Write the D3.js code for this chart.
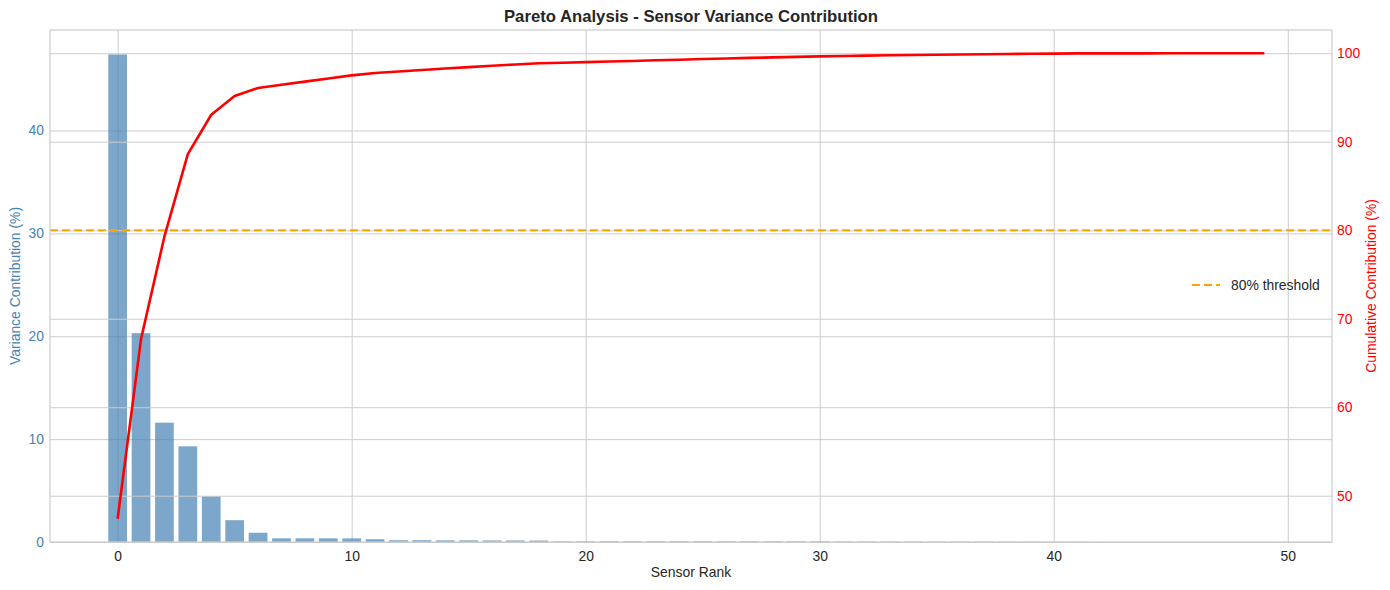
<!DOCTYPE html>
<html lang="en">
<head>
  <meta charset="UTF-8">
  <script src="https://cdn.jsdelivr.net/npm/d3@7"></script>
  <title>Pareto Analysis</title>
  <style>
    body { margin: 0; background: #fff; }
    svg text { font-family: "Liberation Sans", Arial, sans-serif; }
  </style>
</head>
<body>
  <svg width="1390" height="590" id="chart"></svg>
  <script>
    // variance contribution (%) of each sensor, already sorted by rank
    let sensorRank = d3.range(50);
    let variancePct = [
      47.4, 20.3, 11.6, 9.3, 4.45, 2.12, 0.9, 0.36, 0.36, 0.36,
      0.35, 0.27, 0.17, 0.17, 0.16, 0.16, 0.15, 0.15, 0.14, 0.06,
      0.06, 0.07, 0.07, 0.07, 0.07, 0.07, 0.065, 0.065, 0.06, 0.06,
      0.06, 0.04, 0.04, 0.035, 0.035, 0.03, 0.03, 0.03, 0.025, 0.025,
      0.02, 0.02, 0.004, 0.003, 0.002, 0.002, 0.001, 0.001, 0.001, 0.001
    ];
    let threshold = 80;
    let xTicks = [0, 10, 20, 30, 40, 50];
    let leftTicks = [0, 10, 20, 30, 40];
    let rightTicks = [50, 60, 70, 80, 90, 100];

    // running total for the pareto line
    let cumulativePct = Array.from(d3.cumsum(variancePct));

    let svg = d3.select("#chart");
    let plotL = 50, plotR = 1332, plotT = 30, plotB = 542;
    let grid = "#cccccc";

    /* SCALES */
    let scaleX = d3.scaleLinear().domain([-2.89, 51.89]).range([plotL, plotR]);
    let maxVar = d3.max(variancePct);
    let scaleY = d3.scaleLinear().domain([0, maxVar * 1.05]).range([plotB, plotT]);
    let cMin = d3.min(cumulativePct), cMax = d3.max(cumulativePct);
    let pad = (cMax - cMin) * 0.05;
    let scaleY2 = d3.scaleLinear().domain([cMin - pad, cMax + pad]).range([plotB, plotT]);

    /* LEFT AXIS GRID (behind bars) */
    let axisX = d3.axisBottom(scaleX).tickValues(xTicks).tickSize(-(plotB - plotT)).tickFormat("");
    svg.append("g").attr("transform", `translate(0,${plotB})`).call(axisX)
      .call(g => g.select(".domain").remove())
      .selectAll("line").attr("stroke", grid).attr("stroke-width", 1);

    let gridLeft = d3.axisLeft(scaleY).tickValues(leftTicks).tickSize(-(plotR - plotL)).tickFormat("");
    svg.append("g").attr("transform", `translate(${plotL},0)`).call(gridLeft)
      .call(g => g.select(".domain").remove())
      .selectAll("line").attr("stroke", grid).attr("stroke-width", 1);

    /* BARS */
    svg.selectAll(".bar")
      .data(variancePct)
      .enter()
      .append("rect")
      .attr("class", "bar")
      .attr("x", (d, i) => scaleX(sensorRank[i] - 0.4))
      .attr("width", (d, i) => scaleX(sensorRank[i] + 0.4) - scaleX(sensorRank[i] - 0.4))
      .attr("y", d => scaleY(d))
      .attr("height", d => scaleY(0) - scaleY(d))
      .attr("fill", "steelblue")
      .attr("fill-opacity", 0.7);

    /* RIGHT AXIS GRID (twin axis, drawn over the bars) */
    let gridRight = d3.axisRight(scaleY2).tickValues(rightTicks).tickSize(-(plotR - plotL)).tickFormat("");
    svg.append("g").attr("transform", `translate(${plotR},0)`).call(gridRight)
      .call(g => g.select(".domain").remove())
      .selectAll("line").attr("stroke", grid).attr("stroke-width", 1);

    // 80% threshold
    svg.append("line")
      .attr("x1", plotL).attr("x2", plotR)
      .attr("y1", scaleY2(threshold)).attr("y2", scaleY2(threshold))
      .attr("stroke", "orange")
      .attr("stroke-width", 2)
      .attr("stroke-dasharray", "8,4");

    // cumulative line
    let line = d3.line()
      .x((d, i) => scaleX(sensorRank[i]))
      .y(d => scaleY2(d));
    svg.append("path")
      .datum(cumulativePct)
      .attr("d", line)
      .attr("fill", "none")
      .attr("stroke", "red")
      .attr("stroke-width", 2.6)
      .attr("stroke-linejoin", "round");

    // frame
    svg.append("rect")
      .attr("x", plotL).attr("y", plotT)
      .attr("width", plotR - plotL).attr("height", plotB - plotT)
      .attr("fill", "none").attr("stroke", grid).attr("stroke-width", 1.2);

    /* TICK LABELS */
    let xLab = d3.axisBottom(scaleX).tickValues(xTicks).tickSize(0).tickPadding(9);
    svg.append("g").attr("transform", `translate(0,${plotB})`).call(xLab)
      .call(g => g.select(".domain").remove())
      .selectAll("text").attr("fill", "#262626").style("font-size", "13.9px");

    let yLab = d3.axisLeft(scaleY).tickValues(leftTicks).tickSize(0).tickPadding(6);
    svg.append("g").attr("transform", `translate(${plotL},0)`).call(yLab)
      .call(g => g.select(".domain").remove())
      .selectAll("text").attr("fill", "steelblue").style("font-size", "13.9px");

    let y2Lab = d3.axisRight(scaleY2).tickValues(rightTicks).tickSize(0).tickPadding(5);
    svg.append("g").attr("transform", `translate(${plotR},0)`).call(y2Lab)
      .call(g => g.select(".domain").remove())
      .selectAll("text").attr("fill", "red").style("font-size", "13.9px");

    /* TITLES */
    svg.append("text")
      .text("Pareto Analysis - Sensor Variance Contribution")
      .attr("x", (plotL + plotR) / 2).attr("y", 22)
      .attr("text-anchor", "middle")
      .attr("fill", "#262626")
      .style("font-size", "16.7px")
      .style("font-weight", "bold");

    svg.append("text")
      .text("Sensor Rank")
      .attr("x", (plotL + plotR) / 2).attr("y", 577)
      .attr("text-anchor", "middle")
      .attr("fill", "#262626")
      .style("font-size", "13.9px");

    svg.append("text")
      .text("Variance Contribution (%)")
      .attr("transform", `translate(20,${(plotT + plotB) / 2}) rotate(-90)`)
      .attr("text-anchor", "middle")
      .attr("fill", "steelblue")
      .style("font-size", "13.9px");

    svg.append("text")
      .text("Cumulative Contribution (%)")
      .attr("transform", `translate(1376,${(plotT + plotB) / 2}) rotate(-90)`)
      .attr("text-anchor", "middle")
      .attr("fill", "red")
      .style("font-size", "13.9px");

    /* LEGEND */
    let legY = (plotT + plotB) / 2 - 1;
    svg.append("line")
      .attr("x1", 1192).attr("x2", 1220)
      .attr("y1", legY).attr("y2", legY)
      .attr("stroke", "orange").attr("stroke-width", 2)
      .attr("stroke-dasharray", "8,4");
    svg.append("text")
      .text("80% threshold")
      .attr("x", 1231).attr("y", legY + 5)
      .attr("fill", "#262626")
      .style("font-size", "13.9px");
  </script>
</body>
</html>
